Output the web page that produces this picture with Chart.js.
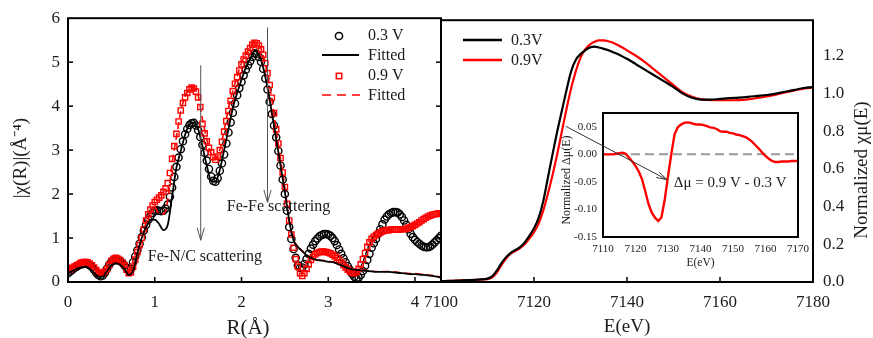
<!DOCTYPE html>
<html>
<head>
<meta charset="utf-8">
<title>EXAFS / XANES</title>
<script src="https://cdn.jsdelivr.net/npm/chart.js@4.4.1/dist/chart.umd.min.js"></script>
<style>
  html, body { margin: 0; padding: 0; background: #fff; }
  #fig { position: relative; width: 873px; height: 338px; overflow: hidden; background: #fff; }
  #fig canvas { position: absolute; }
</style>
</head>
<body>
<div id="fig">
  <canvas id="exafs" width="460" height="338" style="left:0px;top:0px"></canvas>
  <canvas id="xanes" width="473" height="338" style="left:400px;top:0px"></canvas>
  <canvas id="inset" width="263" height="175" style="left:552px;top:100px"></canvas>
</div>
<script>
// left panel, |chi(R)| vs R : measured points on a fine R grid
const rFine = [0.000,0.025,0.050,0.075,0.100,0.125,0.150,0.175,0.200,0.225,
  0.250,0.275,0.300,0.325,0.350,0.375,0.400,0.425,0.450,0.475,
  0.500,0.525,0.550,0.575,0.600,0.625,0.650,0.675,0.700,0.725,
  0.750,0.775,0.800,0.825,0.850,0.875,0.900,0.925,0.950,0.975,
  1.000,1.025,1.050,1.075,1.100,1.125,1.150,1.175,1.200,1.225,
  1.250,1.275,1.300,1.325,1.350,1.375,1.400,1.425,1.450,1.475,
  1.500,1.525,1.550,1.575,1.600,1.625,1.650,1.675,1.700,1.725,
  1.750,1.775,1.800,1.825,1.850,1.875,1.900,1.925,1.950,1.975,
  2.000,2.025,2.050,2.075,2.100,2.125,2.150,2.175,2.200,2.225,
  2.250,2.275,2.300,2.325,2.350,2.375,2.400,2.425,2.450,2.475,
  2.500,2.525,2.550,2.575,2.600,2.625,2.650,2.675,2.700,2.725,
  2.750,2.775,2.800,2.825,2.850,2.875,2.900,2.925,2.950,2.975,
  3.000,3.025,3.050,3.075,3.100,3.125,3.150,3.175,3.200,3.225,
  3.250,3.275,3.300,3.325,3.350,3.375,3.400,3.425,3.450,3.475,
  3.500,3.525,3.550,3.575,3.600,3.625,3.650,3.675,3.700,3.725,
  3.750,3.775,3.800,3.825,3.850,3.875,3.900,3.925,3.950,3.975,
  4.000,4.025,4.050,4.075,4.100,4.125,4.150,4.175,4.200,4.225,
  4.250,4.275,4.300];
const chi03 = [0.20,0.24,0.28,0.32,0.35,0.38,0.40,0.41,0.42,0.41,
  0.38,0.34,0.28,0.21,0.16,0.13,0.15,0.21,0.30,0.39,
  0.46,0.50,0.52,0.51,0.48,0.44,0.38,0.32,0.28,0.30,
  0.45,0.58,0.72,0.87,1.02,1.17,1.30,1.41,1.50,1.57,
  1.62,1.63,1.62,1.61,1.62,1.67,1.76,1.94,2.15,2.39,
  2.62,2.83,3.02,3.20,3.36,3.48,3.57,3.61,3.62,3.56,
  3.45,3.30,3.12,2.94,2.76,2.57,2.40,2.30,2.28,2.36,
  2.53,2.70,2.90,3.15,3.40,3.63,3.85,4.06,4.25,4.41,
  4.55,4.70,4.83,4.93,5.02,5.12,5.20,5.19,5.12,5.01,
  4.85,4.63,4.38,4.10,3.82,3.56,3.29,2.98,2.65,2.33,
  2.00,1.62,1.25,0.98,0.75,0.55,0.38,0.32,0.33,0.41,
  0.52,0.64,0.76,0.85,0.93,0.99,1.04,1.07,1.09,1.09,
  1.08,1.05,1.00,0.93,0.84,0.74,0.64,0.54,0.45,0.36,
  0.28,0.19,0.12,0.08,0.10,0.16,0.25,0.37,0.50,0.64,
  0.78,0.88,0.98,1.09,1.20,1.31,1.42,1.49,1.54,1.57,
  1.59,1.59,1.58,1.54,1.48,1.40,1.30,1.20,1.10,1.02,
  0.96,0.91,0.87,0.83,0.80,0.79,0.79,0.81,0.85,0.90,
  0.95,1.00,1.05];
const chi09 = [0.27,0.29,0.32,0.35,0.38,0.41,0.44,0.45,0.46,0.45,
  0.42,0.38,0.33,0.27,0.22,0.20,0.20,0.24,0.30,0.39,
  0.48,0.53,0.55,0.53,0.50,0.45,0.38,0.28,0.20,0.22,
  0.35,0.51,0.68,0.84,1.00,1.20,1.40,1.54,1.65,1.74,
  1.82,1.87,1.92,1.97,2.05,2.13,2.25,2.48,2.80,3.09,
  3.37,3.65,3.90,4.07,4.20,4.30,4.38,4.42,4.40,4.33,
  4.20,3.98,3.60,3.38,3.20,3.05,2.95,2.84,2.78,2.85,
  3.00,3.19,3.42,3.66,3.89,4.12,4.34,4.51,4.66,4.81,
  4.95,5.06,5.15,5.24,5.32,5.40,5.44,5.43,5.38,5.29,
  5.17,4.98,4.75,4.48,4.19,3.84,3.47,3.15,2.82,2.49,
  2.16,1.78,1.40,1.08,0.78,0.52,0.35,0.20,0.14,0.20,
  0.30,0.40,0.50,0.57,0.63,0.66,0.68,0.69,0.69,0.68,
  0.67,0.65,0.62,0.59,0.55,0.50,0.45,0.39,0.33,0.28,
  0.24,0.21,0.20,0.23,0.30,0.40,0.52,0.66,0.80,0.90,
  0.98,1.03,1.07,1.10,1.13,1.15,1.17,1.18,1.18,1.19,
  1.19,1.19,1.19,1.20,1.20,1.20,1.21,1.23,1.25,1.27,
  1.30,1.33,1.36,1.40,1.43,1.46,1.49,1.51,1.53,1.54,
  1.55,1.56,1.56];

// fitted curves on a coarser grid
const rGrid = [0.00,0.05,0.10,0.15,0.20,0.25,0.30,0.35,0.40,0.45,
  0.50,0.55,0.60,0.65,0.70,0.75,0.80,0.85,0.90,0.95,
  1.00,1.05,1.10,1.15,1.20,1.25,1.30,1.35,1.40,1.45,
  1.50,1.55,1.60,1.65,1.70,1.75,1.80,1.85,1.90,1.95,
  2.00,2.05,2.10,2.15,2.20,2.25,2.30,2.35,2.40,2.45,
  2.50,2.55,2.60,2.65,2.70,2.75,2.80,2.85,2.90,2.95,
  3.00,3.05,3.10,3.15,3.20,3.25,3.30,3.35,3.40,3.45,
  3.50,3.55,3.60,3.65,3.70,3.75,3.80,3.85,3.90,3.95,
  4.00,4.05,4.10,4.15,4.20,4.25,4.30];
const fit03 = [0.20,0.25,0.30,0.33,0.35,0.30,0.22,0.12,0.12,0.25,
  0.38,0.42,0.40,0.30,0.16,0.25,0.65,1.00,1.25,1.40,
  1.42,1.32,1.18,1.30,1.95,2.60,2.98,3.35,3.58,3.63,
  3.48,3.08,2.65,2.30,2.28,2.55,3.00,3.48,3.95,4.30,
  4.60,4.88,5.08,5.25,5.16,4.88,4.42,3.85,3.25,2.65,
  2.05,1.40,0.95,0.80,0.70,0.61,0.55,0.51,0.49,0.48,
  0.46,0.45,0.42,0.38,0.34,0.30,0.28,0.27,0.26,0.25,
  0.24,0.23,0.23,0.23,0.23,0.22,0.21,0.20,0.19,0.18,
  0.18,0.17,0.16,0.15,0.14,0.12,0.10];
const fit09 = [0.25,0.30,0.36,0.41,0.44,0.40,0.31,0.20,0.20,0.30,
  0.45,0.52,0.48,0.36,0.18,0.35,0.68,1.00,1.35,1.60,
  1.70,1.55,1.55,1.85,2.70,3.30,3.88,4.22,4.40,4.42,
  4.25,3.70,3.25,2.92,2.80,3.00,3.45,3.95,4.35,4.68,
  4.98,5.18,5.35,5.45,5.40,5.15,4.72,4.15,3.45,2.80,
  2.15,1.38,0.95,0.82,0.71,0.62,0.56,0.52,0.50,0.49,
  0.47,0.46,0.43,0.39,0.35,0.31,0.29,0.28,0.27,0.26,
  0.25,0.24,0.24,0.24,0.24,0.23,0.22,0.21,0.20,0.19,
  0.19,0.18,0.17,0.16,0.15,0.13,0.11];
const rTicks = [0, 1, 2, 3, 4];
const chiTicks = [0, 1, 2, 3, 4, 5, 6];

// right panel, normalized XANES
const energy = [7100,7102,7104,7106,7108,
  7110,7111,7112,7113,7114,7115,7116,7117,7118,7119,
  7120,7121,7122,7123,7124,7125,7126,7127,7128,7129,
  7130,7131,7132,7133,7134,7135,7136,7137,7138,7139,7140,
  7142,7144,7146,7148,7150,7152,7154,7156,7158,7160,
  7162,7164,7166,7168,7170,7172,7174,7176,7178,7180];
const mu03 = [0.005,0.006,0.008,0.010,0.013,
  0.018,0.030,0.060,0.100,0.132,0.155,0.170,0.185,0.210,0.245,
  0.285,0.340,0.430,0.555,0.680,0.800,0.910,1.020,1.120,1.180,
  1.210,1.230,1.245,1.250,1.245,1.238,1.230,1.220,1.210,1.198,1.185,
  1.155,1.125,1.095,1.065,1.035,1.000,0.978,0.968,0.968,0.972,
  0.976,0.979,0.983,0.988,0.993,1.000,1.010,1.020,1.030,1.035];
const mu09 = [0.005,0.006,0.008,0.010,0.012,
  0.015,0.025,0.050,0.090,0.125,0.150,0.165,0.180,0.200,0.230,
  0.265,0.310,0.380,0.470,0.570,0.680,0.800,0.920,1.030,1.120,
  1.190,1.235,1.260,1.275,1.283,1.283,1.278,1.270,1.258,1.245,1.230,
  1.200,1.165,1.125,1.085,1.045,1.006,0.983,0.970,0.966,0.965,
  0.965,0.966,0.970,0.977,0.985,0.995,1.007,1.017,1.027,1.032];
const eTicks = [7100, 7120, 7140, 7160, 7180];
const muTicks = [0, 0.2, 0.4, 0.6, 0.8, 1.0, 1.2];

// inset, difference spectrum
const diffEnergy = [7110,7111,7112,7113,7114,7115,7116,7117,7118,7119,
  7120,7121,7122,7123,7124,7125,7126,7127,7128,7129,
  7130,7131,7132,7133,7134,7135,7136,7137,7138,7139,
  7140,7141,7142,7143,7144,7145,7146,7147,7148,7149,
  7150,7151,7152,7153,7154,7155,7156,7157,7158,7159,
  7160,7161,7162,7163,7164,7165,7166,7167,7168,7169,7170];
const diffMu = [0.000,0.000,0.000,0.000,0.001,0.002,0.003,0.001,-0.006,-0.013,
  -0.021,-0.031,-0.045,-0.067,-0.090,-0.106,-0.115,-0.121,-0.114,-0.082,
  -0.040,0.000,0.036,0.049,0.054,0.057,0.058,0.057,0.055,0.054,
  0.054,0.053,0.051,0.049,0.048,0.046,0.042,0.041,0.041,0.039,
  0.038,0.036,0.035,0.033,0.031,0.027,0.022,0.016,0.010,0.003,
  -0.003,-0.008,-0.012,-0.014,-0.014,-0.013,-0.013,-0.013,-0.012,-0.012,-0.012];
const diffETicks = [7110, 7120, 7130, 7140, 7150, 7160, 7170];
const diffTicks = [-0.15, -0.10, -0.05, 0.00, 0.05];

const serif = '"Liberation Serif", "Times New Roman", serif';
const ink = '#1c1c1c';
const red = '#ff0000';

const pts = (xs, ys) => xs.map((x, i) => ({ x: x, y: ys[i] }));
const font = size => size + 'px ' + serif;
const fixTicks = list => (s => { s.ticks = list.map(v => ({ value: v })); });

function arrow(ctx, x1, y1, x2, y2, head) {
    ctx.beginPath();
    ctx.moveTo(x1, y1);
    ctx.lineTo(x2, y2);
    ctx.stroke();
    const a = Math.atan2(y2 - y1, x2 - x1);
    ctx.beginPath();
    ctx.moveTo(x2 - head * Math.cos(a - 0.28), y2 - head * Math.sin(a - 0.28));
    ctx.lineTo(x2, y2);
    ctx.lineTo(x2 - head * Math.cos(a + 0.28), y2 - head * Math.sin(a + 0.28));
    ctx.stroke();
}

function vTitle(ctx, text, x, y, size) {
    ctx.save();
    ctx.translate(x, y);
    ctx.rotate(-Math.PI / 2);
    ctx.font = font(size);
    ctx.fillStyle = ink;
    ctx.textAlign = 'center';
    ctx.textBaseline = 'middle';
    ctx.fillText(text, 0, 0);
    ctx.restore();
}

// box round the plot area with small inward ticks
function drawFrame(chart, lw, xTicks, yLeft, yRight) {
    const { ctx, chartArea: a } = chart;
    const xs = chart.scales.x, ys = chart.scales.y;
    ctx.save();
    ctx.strokeStyle = '#000';
    ctx.lineWidth = lw;
    ctx.strokeRect(a.left, a.top, a.right - a.left, a.bottom - a.top);
    ctx.lineWidth = 1.5;
    xTicks.forEach(v => {
        const px = xs.getPixelForValue(v);
        ctx.beginPath(); ctx.moveTo(px, a.bottom); ctx.lineTo(px, a.bottom - 5); ctx.stroke();
    });
    yLeft.forEach(v => {
        const py = ys.getPixelForValue(v);
        ctx.beginPath(); ctx.moveTo(a.left, py); ctx.lineTo(a.left + 5, py); ctx.stroke();
    });
    yRight.forEach(v => {
        const py = ys.getPixelForValue(v);
        ctx.beginPath(); ctx.moveTo(a.right, py); ctx.lineTo(a.right - 5, py); ctx.stroke();
    });
    ctx.restore();
}

const noGrid = { display: false, drawTicks: false, tickLength: 0 };

const exafsDecor = {
    id: 'exafsDecor',
    afterDraw(chart) {
        const ctx = chart.ctx;
        const x = chart.scales.x, y = chart.scales.y;
        drawFrame(chart, 2, [1, 2, 3, 4], [1, 2, 3, 4, 5], [1, 2, 3, 4, 5]);
        vTitle(ctx, '|χ(R)|(Å⁻⁴)', 21, 158, 19);

        ctx.save();
        ctx.font = font(21);
        ctx.fillStyle = ink;
        ctx.textAlign = 'center';
        ctx.textBaseline = 'middle';
        ctx.fillText('R(Å)', 248, 328);

        ctx.strokeStyle = '#555';
        ctx.lineWidth = 1;
        arrow(ctx, x.getPixelForValue(1.53), y.getPixelForValue(4.93), x.getPixelForValue(1.53), y.getPixelForValue(0.95), 13);
        arrow(ctx, x.getPixelForValue(2.30), y.getPixelForValue(5.79), x.getPixelForValue(2.30), y.getPixelForValue(1.81), 13);

        ctx.font = font(16);
        ctx.textAlign = 'left';
        ctx.fillText('Fe-N/C scattering', x.getPixelForValue(0.92), y.getPixelForValue(0.57));
        ctx.fillText('Fe-Fe scattering', x.getPixelForValue(1.83), y.getPixelForValue(1.70));

        // legend
        ctx.lineWidth = 1.5;
        ctx.strokeStyle = '#000';
        ctx.beginPath(); ctx.arc(339, 36, 3.6, 0, Math.PI * 2); ctx.stroke();
        ctx.lineWidth = 1.8;
        ctx.beginPath(); ctx.moveTo(322, 55); ctx.lineTo(359, 55); ctx.stroke();
        ctx.strokeStyle = red;
        ctx.lineWidth = 1.5;
        ctx.strokeRect(336.3, 73.3, 5.4, 5.4);
        ctx.lineWidth = 1.6;
        ctx.setLineDash([9, 6]);
        ctx.beginPath(); ctx.moveTo(322, 95); ctx.lineTo(360, 95); ctx.stroke();
        ctx.setLineDash([]);
        ctx.fillText('0.3 V', 368, 36);
        ctx.fillText('Fitted', 368, 56);
        ctx.fillText('0.9 V', 368, 76);
        ctx.fillText('Fitted', 368, 96);
        ctx.restore();
    }
};

new Chart(document.getElementById('exafs'), {
    type: 'line',
    data: {
        datasets: [
            { label: 'Fitted 0.3 V', data: pts(rGrid, fit03), borderColor: '#000', borderWidth: 1.8, pointRadius: 0, cubicInterpolationMode: 'monotone' },
            { label: 'Fitted 0.9 V', data: pts(rGrid, fit09), borderColor: red, borderWidth: 1.6, borderDash: [7, 4], pointRadius: 0, cubicInterpolationMode: 'monotone' },
            { label: '0.9 V', data: pts(rFine, chi09), showLine: false, pointStyle: 'rect', pointRadius: 3.7, pointBorderWidth: 1.4, pointBorderColor: red, pointBackgroundColor: 'rgba(0,0,0,0)' },
            { label: '0.3 V', data: pts(rFine, chi03), showLine: false, pointStyle: 'circle', pointRadius: 3.6, pointBorderWidth: 1.4, pointBorderColor: '#000', pointBackgroundColor: 'rgba(0,0,0,0)' }
        ]
    },
    options: {
        responsive: false,
        animation: false,
        events: [],
        layout: { padding: { top: 17, right: 19, left: 0, bottom: 0 } },
        plugins: { legend: { display: false }, tooltip: { enabled: false } },
        scales: {
            x: {
                type: 'linear', min: 0, max: 4.3,
                grid: noGrid, border: { display: false },
                ticks: { padding: 10, color: ink, font: { family: serif, size: 17 } },
                afterBuildTicks: fixTicks(rTicks),
                afterFit: s => { s.height = 56; }
            },
            y: {
                min: 0, max: 6,
                grid: noGrid, border: { display: false },
                ticks: { padding: 8, color: ink, font: { family: serif, size: 17 } },
                afterBuildTicks: fixTicks(chiTicks),
                afterFit: s => { s.width = 68; }
            }
        }
    },
    plugins: [exafsDecor]
});

// xanes canvas sits 400 px right of the figure's left edge
const XO = 400;
const xanesDecor = {
    id: 'xanesDecor',
    afterDraw(chart) {
        const ctx = chart.ctx;
        drawFrame(chart, 2, [7120, 7140, 7160], [], []);
        vTitle(ctx, 'Normalized χμ(E)', 862 - XO, 170, 19);
        ctx.save();
        ctx.lineWidth = 2.5;
        ctx.strokeStyle = '#000';
        ctx.beginPath(); ctx.moveTo(463 - XO, 40); ctx.lineTo(502 - XO, 40); ctx.stroke();
        ctx.strokeStyle = red;
        ctx.beginPath(); ctx.moveTo(463 - XO, 60); ctx.lineTo(502 - XO, 60); ctx.stroke();
        ctx.font = font(16);
        ctx.fillStyle = ink;
        ctx.textAlign = 'left';
        ctx.textBaseline = 'middle';
        ctx.fillText('0.3V', 511 - XO, 41);
        ctx.fillText('0.9V', 511 - XO, 61);
        ctx.restore();
    }
};

new Chart(document.getElementById('xanes'), {
    type: 'line',
    data: {
        datasets: [
            { label: '0.3V', data: pts(energy, mu03), borderColor: '#000', borderWidth: 2.2, pointRadius: 0, cubicInterpolationMode: 'monotone' },
            { label: '0.9V', data: pts(energy, mu09), borderColor: red, borderWidth: 2.2, pointRadius: 0, cubicInterpolationMode: 'monotone' }
        ]
    },
    options: {
        responsive: false,
        animation: false,
        events: [],
        layout: { padding: { top: 17, right: 0, left: 41, bottom: 0 } },
        plugins: { legend: { display: false }, tooltip: { enabled: false } },
        scales: {
            x: {
                type: 'linear', min: 7100, max: 7180,
                grid: noGrid, border: { display: false },
                ticks: { padding: 10, color: ink, font: { family: serif, size: 17 }, callback: v => String(v) },
                afterBuildTicks: fixTicks(eTicks),
                title: { display: true, text: 'E(eV)', color: ink, font: { family: serif, size: 19 }, padding: 0 },
                afterFit: s => { s.height = 56; }
            },
            y: {
                position: 'right', min: 0, max: 1.39,
                grid: noGrid, border: { display: false },
                ticks: { padding: 10, color: ink, font: { family: serif, size: 17 }, callback: v => v.toFixed(1) },
                afterBuildTicks: fixTicks(muTicks),
                afterFit: s => { s.width = 60; }
            }
        }
    },
    plugins: [xanesDecor]
});

// inset canvas origin in figure pixels: (552, 100)
const IX = 552, IY = 100;
const insetDecor = {
    id: 'insetDecor',
    beforeDatasetsDraw(chart) {
        const { ctx, chartArea: a } = chart;
        const py = chart.scales.y.getPixelForValue(0);
        ctx.save();
        ctx.strokeStyle = '#9a9a9a';
        ctx.lineWidth = 2;
        ctx.setLineDash([9, 5]);
        ctx.beginPath(); ctx.moveTo(a.left, py); ctx.lineTo(a.right, py); ctx.stroke();
        ctx.restore();
    },
    afterDraw(chart) {
        const ctx = chart.ctx;
        const x = chart.scales.x, y = chart.scales.y;
        drawFrame(chart, 2, [], [], []);
        vTitle(ctx, 'Normalized Δμ(E)', 567 - IX, 180 - IY, 12);
        ctx.save();
        ctx.strokeStyle = '#333';
        ctx.lineWidth = 1;
        arrow(ctx, x.getPixelForValue(7098.5), y.getPixelForValue(0.051), x.getPixelForValue(7129.7), y.getPixelForValue(-0.046), 11);
        ctx.font = font(15);
        ctx.fillStyle = ink;
        ctx.textAlign = 'left';
        ctx.textBaseline = 'middle';
        ctx.fillText('Δμ = 0.9 V - 0.3 V', x.getPixelForValue(7131.8), y.getPixelForValue(-0.053));
        ctx.restore();
    }
};

new Chart(document.getElementById('inset'), {
    type: 'line',
    data: {
        datasets: [
            { label: 'Δμ', data: pts(diffEnergy, diffMu), borderColor: red, borderWidth: 2.4, pointRadius: 0, tension: 0 }
        ]
    },
    options: {
        responsive: false,
        animation: false,
        events: [],
        layout: { padding: { top: 13, right: 14, left: 0, bottom: 0 } },
        plugins: { legend: { display: false }, tooltip: { enabled: false } },
        scales: {
            x: {
                type: 'linear', min: 7110, max: 7170,
                grid: noGrid, border: { display: false },
                ticks: { padding: 6, color: ink, font: { family: serif, size: 11 }, callback: v => String(v) },
                afterBuildTicks: fixTicks(diffETicks),
                title: { display: true, text: 'E(eV)', color: ink, font: { family: serif, size: 11.5 }, padding: { top: 0, bottom: 5 } },
                afterFit: s => { s.height = 38; }
            },
            y: {
                min: -0.15, max: 0.075,
                grid: noGrid, border: { display: false },
                ticks: { padding: 6, color: ink, font: { family: serif, size: 11 }, callback: v => v.toFixed(2) },
                afterBuildTicks: fixTicks(diffTicks),
                afterFit: s => { s.width = 51; }
            }
        }
    },
    plugins: [insetDecor]
});
</script>
</body>
</html>
